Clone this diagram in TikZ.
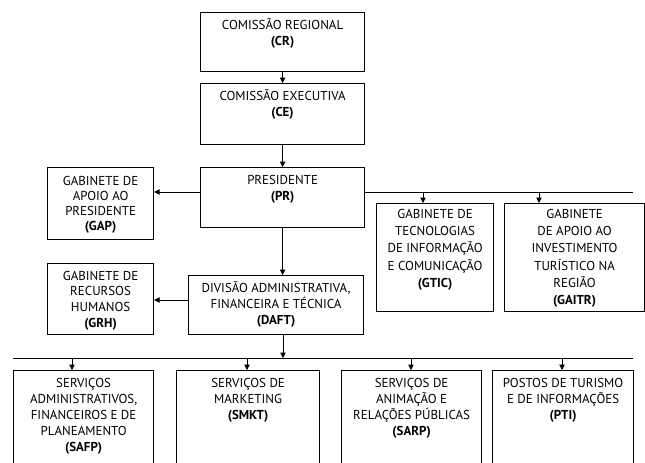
\documentclass[tikz,border=0pt]{standalone}
\usepackage{fontspec}
\setmainfont{PT Sans}
\usetikzlibrary{arrows.meta}

% box contents: [first baseline]{width px}{height px}{lines}
\newcommand{\boxtext}[4][12.4pt]{\parbox[t][\dimexpr #3pt*3/4\relax][t]{\dimexpr #2pt*3/4\relax}{\centering\rule{0pt}{#1}#4}}

\begin{document}
\begin{tikzpicture}[x=0.75pt,y=0.75pt,yscale=-1,xscale=1,
  unit/.style={draw, line width=0.9pt, inner sep=0pt, anchor=north west, font=\fontsize{9.7}{12.6}\selectfont},
  link/.style={line width=0.6pt, -{Triangle[length=4pt,width=4pt]}},
  bus/.style={line width=0.6pt}]
\useasboundingbox (0,0) rectangle (645,463);

% Boxes
\node[unit] (cr) at (200,12) {\boxtext{164}{59}{COMISSÃO REGIONAL\\\textbf{(CR)}}};
\node[unit] (ce) at (200,83) {\boxtext{164}{61}{COMISSÃO EXECUTIVA\\\textbf{(CE)}}};
\node[unit] (pr) at (200,167) {\boxtext{164}{60}{PRESIDENTE\\\textbf{(PR)}}};
\node[unit, font=\fontsize{9.7}{11.4}\selectfont] (gap) at (47,167) {\boxtext[13.2pt]{106}{72}{GABINETE DE\\APOIO AO\\PRESIDENTE\\\textbf{(GAP)}}};
\node[unit, font=\fontsize{9.7}{13}\selectfont] (gtic) at (376,203) {\boxtext[11pt]{117}{108}{GABINETE DE\\TECNOLOGIAS\\DE INFORMAÇÃO\\E COMUNICAÇÃO\\\textbf{(GTIC)}}};
\node[unit, font=\fontsize{9.7}{13}\selectfont] (gaitr) at (504,203) {\boxtext[11pt]{140}{108}{GABINETE\\DE APOIO AO\\INVESTIMENTO\\TURÍSTICO NA\\REGIÃO\\\textbf{(GAITR)}}};
\node[unit, font=\fontsize{9.7}{11.75}\selectfont] (grh) at (47,263) {\boxtext{106}{71}{GABINETE DE\\RECURSOS\\HUMANOS\\\textbf{(GRH)}}};
\node[unit, font=\fontsize{9.7}{12}\selectfont] (daft) at (188,275) {\boxtext{175}{59}{DIVISÃO ADMINISTRATIVA,\\FINANCEIRA E TÉCNICA\\\textbf{(DAFT)}}};

% Services (cut by the page bottom)
\node[unit, font=\fontsize{9.7}{12}\selectfont] (safp) at (13,370) {\boxtext{140}{100}{SERVIÇOS\\ADMINISTRATIVOS,\\FINANCEIROS E DE\\PLANEAMENTO\\\textbf{(SAFP)}}};
\node[unit, font=\fontsize{9.7}{12}\selectfont] (smkt) at (176,370) {\boxtext{143}{100}{SERVIÇOS DE\\MARKETING\\\textbf{(SMKT)}}};
\node[unit, font=\fontsize{9.7}{12}\selectfont] (sarp) at (341,370) {\boxtext{140}{100}{SERVIÇOS DE\\ANIMAÇÃO E\\RELAÇÕES PÚBLICAS\\\textbf{(SARP)}}};
\node[unit, font=\fontsize{9.7}{12}\selectfont] (pti) at (492,370) {\boxtext{141}{100}{POSTOS DE TURISMO\\E DE INFORMAÇÕES\\\textbf{(PTI)}}};

% Bus coordinates
\coordinate (busPR) at (633,192);
\coordinate (rowGRH) at (0,300);
\coordinate (busL) at (13,358);
\coordinate (busR) at (633,358);
\coordinate (tapgtic) at (423,192);
\coordinate (tapgaitr) at (539,192);
\coordinate (tapdaft) at (283,358);

% Straight Lines
\draw[link] (cr) -- (ce);
\draw[link] (ce) -- (pr);
\draw[link] (pr.west |- busPR) -- (gap.east |- busPR);
\draw[bus] (pr.east |- busPR) -- (busPR);
\draw[link] (tapgtic) -- (tapgtic |- gtic.north);
\draw[link] (tapgaitr) -- (tapgaitr |- gaitr.north);
\draw[link] (pr.south) -- (pr.south |- daft.north);
\draw[link] (daft.west |- rowGRH) -- (grh.east |- rowGRH);
\draw[link] (tapdaft |- daft.south) -- (tapdaft);
\draw[bus] (busL) -- (busR);
\foreach \n/\x in {safp/72, smkt/247, sarp/411, pti/562}{
  \coordinate (tap\n) at (\x,358);
  \draw[link] (tap\n) -- (tap\n |- \n.north);
}

\end{tikzpicture}
\end{document}
